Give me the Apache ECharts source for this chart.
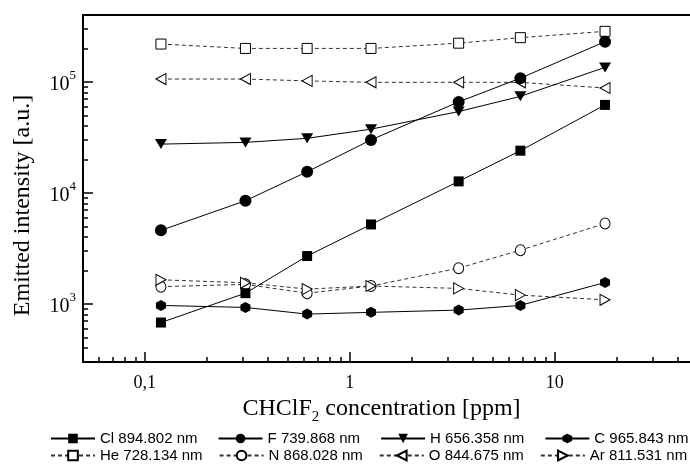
<!DOCTYPE html>
<html><head><meta charset="utf-8">
<script src="https://cdn.jsdelivr.net/npm/echarts@6/dist/echarts.min.js"></script>
<style>html,body{margin:0;padding:0;background:#fff}#c{width:690px;height:466px}</style>
</head><body><div id="c"></div>
<script>
const concentration = [0.12, 0.31, 0.62, 1.27, 3.4, 6.8, 17.6];
const clValues = [680, 1250, 2700, 5200, 12700, 24000, 62000];
const fValues = [4600, 8500, 15500, 30000, 66000, 108000, 230000];
const hValues = [27500, 28500, 31000, 37500, 54000, 74000, 135000];
const cValues = [970, 930, 810, 840, 880, 970, 1560];
const heValues = [219000, 200000, 200000, 200000, 223000, 250000, 285000];
const nValues = [1430, 1500, 1250, 1450, 2100, 3050, 5300];
const oValues = [106000, 106000, 102000, 99000, 99000, 99000, 88000];
const arValues = [1650, 1550, 1360, 1450, 1380, 1200, 1090];
const seriesNames = ['Cl 894.802 nm','F 739.868 nm','H 656.358 nm','C 965.843 nm',
                     'He 728.134 nm','N 868.028 nm','O 844.675 nm','Ar 811.531 nm'];
const xMajorTicks = [0.1, 1, 10];
const xTickLabels = ['0,1', '1', '10'];
const xMinorTicks = [0.06,0.07,0.08,0.09,0.2,0.3,0.4,0.5,0.6,0.7,0.8,0.9,2,3,4,5,6,7,8,9,20,30,40];
const yMajorTicks = [1000, 10000, 100000];
const yMinorTicks = [400,500,600,700,800,900,2000,3000,4000,5000,6000,7000,8000,9000,
                     20000,30000,40000,50000,60000,70000,80000,90000,200000,300000];

const HEX = 'path://M0,-10 L8.66,-5 L8.66,5 L0,10 L-8.66,5 L-8.66,-5 Z';
function pairs(vals){ return concentration.map((x,i)=>[x, vals[i]]); }
function mk(name, vals, symbol, size, rotate, filled, dashed){
  return {
    name, type:'line', data:pairs(vals), xAxisIndex:0, yAxisIndex:0,
    symbol, symbolSize:size, symbolRotate:rotate, showSymbol:true, z: dashed?2:3,
    lineStyle:{color: dashed?'#333':'#000', width:1, type: dashed?[4,3]:'solid'},
    itemStyle:{color: filled?'#000':'#fff', borderColor:'#000', borderWidth: filled?0:1, opacity:1},
    emphasis:{disabled:true}, animation:false
  };
}
const series = [
  mk(seriesNames[0], clValues, 'rect', 10, 0, true, false),
  mk(seriesNames[1], fValues, 'circle', [12,12], 0, true, false),
  mk(seriesNames[2], hValues, 'triangle', [12,10], 180, true, false),
  mk(seriesNames[3], cValues, HEX, [10,11], 0, true, false),
  mk(seriesNames[4], heValues, 'rect', 10, 0, false, true),
  mk(seriesNames[5], nValues, 'circle', [10,11], 0, false, true),
  mk(seriesNames[6], oValues, 'triangle', [11,10], 90, false, true),
  mk(seriesNames[7], arValues, 'triangle', [11,10], -90, false, true)
];
const serif = 'Liberation Serif';
const axisCommon = {type:'log', logBase:10, min:0.05, max:50, splitLine:{show:false}};
const legendText = {fontFamily:'Liberation Sans', fontSize:15, color:'#000'};
const chart = echarts.init(document.getElementById('c'), null, {renderer:'canvas'});
chart.setOption({
  animation:false,
  backgroundColor:'#fff',
  grid:{left:83, top:15, right:-8, bottom:104, containLabel:false, outerBoundsMode:'none'},
  xAxis:[
    Object.assign({}, axisCommon, {
      position:'bottom',
      axisLine:{show:true, lineStyle:{color:'#000', width:2}},
      axisTick:{show:true, inside:true, length:10, customValues:xMajorTicks, lineStyle:{color:'#000', width:1.5}},
      minorTick:{show:false},
      axisLabel:{customValues:xMajorTicks, margin:12, color:'#000', fontFamily:serif, fontSize:18,
        formatter:(v)=>{ const i = xMajorTicks.findIndex(t=>Math.abs(Math.log10(t)-Math.log10(v))<1e-6); return i>=0?xTickLabels[i]:''; }},
      name:'{a|CHClF}{sub|2}{a| concentration [ppm]}', nameLocation:'middle', nameGap:22,
      nameTextStyle:{padding:[0,18,0,0], rich:{a:{fontFamily:serif, fontSize:24, color:'#000'}, sub:{fontFamily:serif, fontSize:15, color:'#000', padding:[16,0,0,0]}}}
    }),
    Object.assign({}, axisCommon, {
      position:'bottom', axisLine:{show:false},
      axisTick:{show:true, inside:true, length:5, customValues:xMinorTicks, lineStyle:{color:'#000', width:1.5}},
      axisLabel:{show:false}
    }),
    Object.assign({}, axisCommon, {
      position:'top', axisLine:{show:true, lineStyle:{color:'#000', width:2}},
      axisTick:{show:false}, axisLabel:{show:false}
    })
  ],
  yAxis:[
    {type:'log', logBase:10, min:300, max:400000, position:'left', splitLine:{show:false},
     axisLine:{show:true, lineStyle:{color:'#000', width:2}},
     axisTick:{show:true, inside:true, length:10, customValues:yMajorTicks, lineStyle:{color:'#000', width:1.5}},
     axisLabel:{customValues:yMajorTicks, margin:7, color:'#000',
       formatter:(v)=>'{b|10}{s|'+Math.round(Math.log10(v))+'}',
       rich:{b:{fontFamily:serif, fontSize:20, color:'#000', padding:[6,0,0,0]}, s:{fontFamily:serif, fontSize:13, color:'#000', verticalAlign:'top'}}},
     name:'Emitted intensity [a.u.]', nameLocation:'middle', nameGap:48,
     nameTextStyle:{fontFamily:serif, fontSize:24, color:'#000', padding:[0,34,0,0]}},
    {type:'log', logBase:10, min:300, max:400000, position:'left', splitLine:{show:false},
     axisLine:{show:false},
     axisTick:{show:true, inside:true, length:5, customValues:yMinorTicks, lineStyle:{color:'#000', width:1.5}},
     axisLabel:{show:false}}
  ],
  legend:[
    {data:seriesNames.slice(0,4), left:50, top:431, itemWidth:44, itemHeight:12, itemGap:20, padding:0,
     textStyle:legendText, selectedMode:false},
    {data:seriesNames.slice(4), left:50, top:448, itemWidth:44, itemHeight:12, itemGap:16, padding:0,
     textStyle:legendText, selectedMode:false}
  ],
  series
});
</script></body></html>
